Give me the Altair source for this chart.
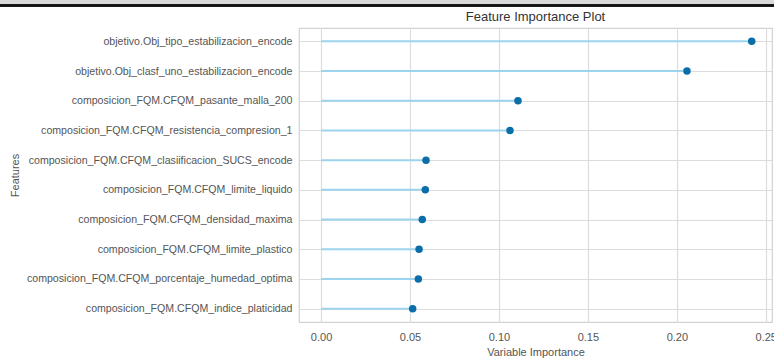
import altair as alt
import pandas as pd

# Feature names, ordered from most to least important
features = [
    "objetivo.Obj_tipo_estabilizacion_encode",
    "objetivo.Obj_clasf_uno_estabilizacion_encode",
    "composicion_FQM.CFQM_pasante_malla_200",
    "composicion_FQM.CFQM_resistencia_compresion_1",
    "composicion_FQM.CFQM_clasiificacion_SUCS_encode",
    "composicion_FQM.CFQM_limite_liquido",
    "composicion_FQM.CFQM_densidad_maxima",
    "composicion_FQM.CFQM_limite_plastico",
    "composicion_FQM.CFQM_porcentaje_humedad_optima",
    "composicion_FQM.CFQM_indice_platicidad",
]

# Variable importance per feature
importance = [0.2421, 0.2057, 0.1107, 0.1062, 0.0590, 0.0586, 0.0569, 0.0551, 0.0547, 0.0515]

x_ticks = [0.0, 0.05, 0.10, 0.15, 0.20, 0.25]

df = pd.DataFrame({"feature": features, "importance": importance, "zero": [0.0] * len(features)})

FONT = "Liberation Sans"

x_scale = alt.Scale(domain=[-0.0124, 0.2535], nice=False, zero=False)
y_enc = alt.Y(
    "feature:N",
    sort=features,
    scale=alt.Scale(type="point", padding=0.45),
    axis=alt.Axis(
        title="Features",
        labelPadding=7,
        labelLimit=400,
        labelFontSize=10.6,
        titleX=-279,
        titleY=147,
    ),
)

base = alt.Chart(df).encode(y=y_enc)

stems = base.mark_rule(color="#9cd4ed", strokeWidth=2).encode(
    x=alt.X(
        "zero:Q",
        scale=x_scale,
        axis=alt.Axis(
            title="Variable Importance",
            values=x_ticks,
            format=".2f",
            labelPadding=9,
            titlePadding=4,
        ),
    ),
    x2="importance:Q",
)

dots = base.mark_circle(size=56, color="#0b6ea8", opacity=1).encode(
    x=alt.X("importance:Q", scale=x_scale)
)

# window strip across the very top
strip = alt.Chart(df).mark_rect(color="#d9d9d9").encode(
    x=alt.value(-299), x2=alt.value(475), y=alt.value(-28), y2=alt.value(-23)
)
strip_line = alt.Chart(df).mark_rule(color="#111111", strokeWidth=1.3).encode(
    x=alt.value(-299), x2=alt.value(475), y=alt.value(-22.5)
)

chart = (
    alt.layer(strip, strip_line, stems, dots)
    .properties(
        width=473,
        height=294,
        title=alt.TitleParams(
            "Feature Importance Plot",
            font=FONT,
            fontSize=13,
            fontWeight="normal",
            color="#333333",
            anchor="middle",
            frame="group",
            offset=4,
            dy=28,
        ),
        autosize=alt.AutoSizeParams(type="none"),
        padding={"left": 299, "top": 28, "right": 2, "bottom": 37},
    )
    .configure_view(stroke="#d2d2d2", strokeWidth=1.2)
    .configure_axis(
        domain=False,
        ticks=False,
        grid=True,
        gridColor="#dcdcdc",
        gridWidth=1.2,
        labelFont=FONT,
        labelFontSize=11,
        labelColor="#555555",
        titleFont=FONT,
        titleFontSize=11,
        titleFontWeight="normal",
        titleColor="#555555",
    )
)

chart.save("out.html", embed_options={"renderer": "svg", "actions": False})
